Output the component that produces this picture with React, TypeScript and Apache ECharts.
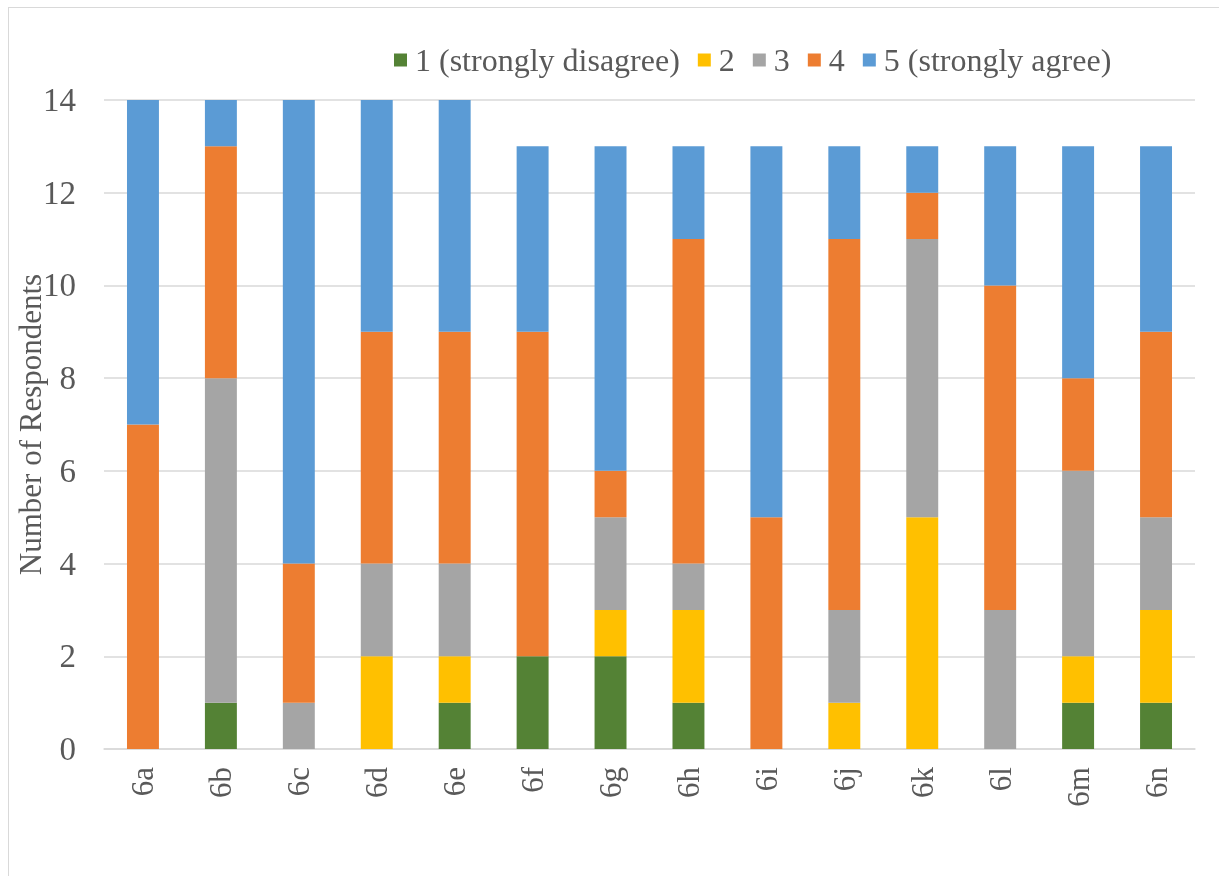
import React, { useEffect, useRef } from "react";
import * as echarts from "echarts";

const categories = ["6a", "6b", "6c", "6d", "6e", "6f", "6g", "6h", "6i", "6j", "6k", "6l", "6m", "6n"];
const seriesNames = ["1 (strongly disagree)", "2", "3", "4", "5 (strongly agree)"];
const s1 = [0, 1, 0, 0, 1, 2, 2, 1, 0, 0, 0, 0, 1, 1];
const s2 = [0, 0, 0, 2, 1, 0, 1, 2, 0, 1, 5, 0, 1, 2];
const s3 = [0, 7, 1, 2, 2, 0, 2, 1, 0, 2, 6, 3, 4, 2];
const s4 = [7, 5, 3, 5, 5, 7, 1, 7, 5, 8, 1, 7, 2, 4];
const s5 = [7, 1, 10, 5, 5, 4, 7, 2, 8, 2, 1, 3, 5, 4];
const seriesData = [s1, s2, s3, s4, s5];
const colors = ["#548235", "#FFC000", "#A5A5A5", "#ED7D31", "#5B9BD5"];
const yTicks = { min: 0, max: 14, interval: 2 };

export default function App() {
  const ref = useRef<HTMLDivElement>(null);
  useEffect(() => {
    if (!ref.current) return;
    const chart = echarts.init(ref.current, null, { renderer: "svg" });
    const font = "Liberation Serif";
    chart.setOption({
      animation: false,
      color: colors,
      textStyle: { fontFamily: font },
      legend: {
        left: 389,
        top: 39,
        itemWidth: 13,
        itemHeight: 13,
        itemGap: 18,
        icon: "rect",
        textStyle: { fontFamily: font, fontSize: 32, color: "#595959", padding: [0, 0, 0, 3] },
        data: seriesNames,
      },
      grid: { left: 104, right: 24, top: 100, bottom: 127, containLabel: false, outerBoundsMode: "none" },
      xAxis: {
        type: "category",
        data: categories,
        axisLine: { show: true, lineStyle: { color: "#d9d9d9", width: 1.5 } },
        axisTick: { show: false },
        axisLabel: { rotate: 90, margin: 18, fontFamily: font, fontSize: 31, color: "#595959" },
      },
      yAxis: {
        type: "value",
        min: yTicks.min,
        max: yTicks.max,
        interval: yTicks.interval,
        name: "Number of Respondents",
        nameLocation: "middle",
        nameGap: 58,
        nameMoveOverlap: false,
        nameTextStyle: { fontFamily: font, fontSize: 31, color: "#595959" },
        axisLine: { show: false },
        axisTick: { show: false },
        axisLabel: { margin: 28, fontFamily: font, fontSize: 33, color: "#595959" },
        splitLine: { lineStyle: { color: "#d9d9d9", width: 1.5 } },
      },
      series: seriesNames.map((name, i) => ({
        name,
        type: "bar",
        stack: "total",
        barWidth: "41%",
        data: seriesData[i],
        itemStyle: { color: colors[i] },
      })),
    });
    return () => chart.dispose();
  }, []);
  return (
    <>
      <div
        style={{
          position: "fixed",
          left: 8,
          top: 7,
          width: 1230,
          height: 880,
          borderLeft: "1.5px solid #d9d9d9",
          borderTop: "1.5px solid #d9d9d9",
          boxSizing: "border-box",
        }}
      />
      <div ref={ref} style={{ position: "fixed", left: 0, top: 0, width: 1219, height: 876 }} />
    </>
  );
}
